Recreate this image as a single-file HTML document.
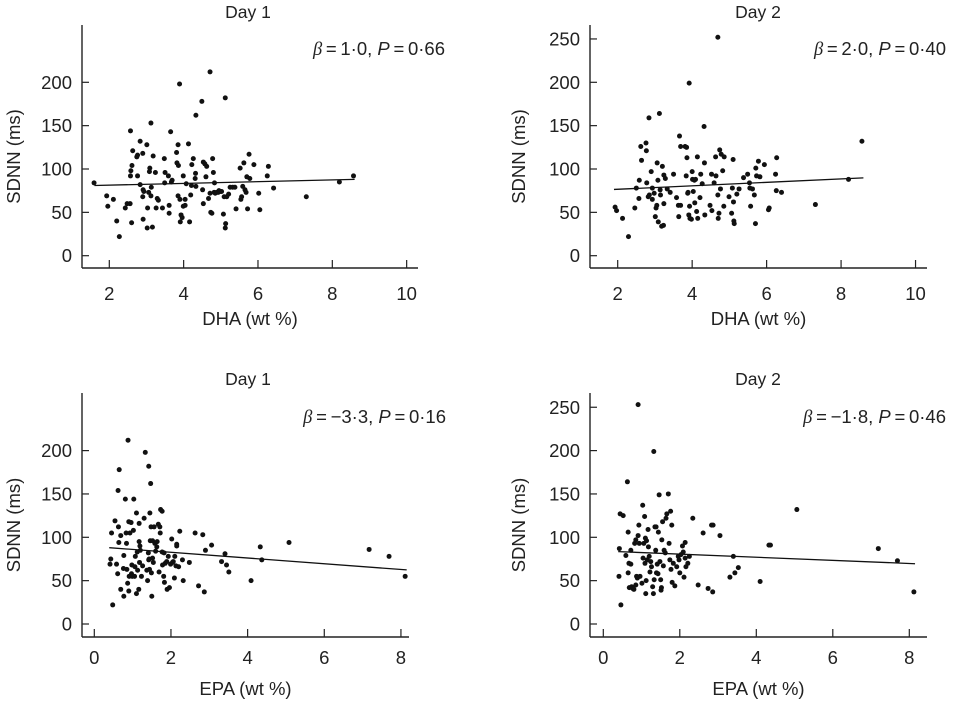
<!DOCTYPE html>
<html><head><meta charset="utf-8"><style>
html,body{margin:0;padding:0;background:#fff;}
svg{display:block;font-family:"Liberation Sans",sans-serif;}
</style></head><body>
<svg id="chart" width="976" height="701" viewBox="0 0 976 701" xmlns="http://www.w3.org/2000/svg"></svg>
<script>
// Panel A: DHA vs SDNN, Day 1
const p1x=[1.59,1.93,2.11,1.96,2.20,2.27,2.43,2.48,2.56,2.60,2.57,2.57,2.58,2.61,2.63,2.74,2.76,2.76,2.83,2.83,2.90,2.91,2.90,2.93,2.91,3.01,3.03,3.02,3.06,3.08,3.09,3.12,3.12,3.13,3.16,3.18,3.24,3.26,3.29,3.32,3.43,3.48,3.50,3.49,3.59,3.61,3.61,3.65,3.67,3.69,3.81,3.82,3.85,3.86,3.85,3.89,3.90,3.91,3.93,3.96,3.99,3.99,4.04,4.04,4.07,4.13,4.16,4.19,4.21,4.22,4.26,4.31,4.32,4.33,4.33,4.49,4.51,4.53,4.53,4.57,4.60,4.62,4.67,4.71,4.71,4.73,4.76,4.78,4.80,4.82,4.83,4.85,4.89,4.93,4.95,4.98,5.02,5.07,5.09,5.12,5.12,5.13,5.16,5.21,5.25,5.32,5.38,5.41,5.52,5.54,5.56,5.59,5.62,5.65,5.68,5.70,5.72,5.76,5.78,5.89,6.02,6.05,6.25,6.28,6.42,7.30,8.19,8.57];
const p1y=[84,69,65,57,40,22,55,60,60,38,144,92,98,104,121,114,116,92,132,82,118,76,68,74,42,128,55,32,73,97,101,153,69,79,33,115,96,55,66,64,55,112,96,84,92,58,49,143,85,87,119,107,128,104,69,198,65,39,47,44,92,57,58,65,83,129,39,70,81,105,112,89,95,80,162,178,76,60,108,106,91,103,66,212,72,50,49,112,96,73,84,72,73,73,75,74,74,48,68,182,32,37,68,71,79,79,79,54,101,65,68,80,107,76,73,91,54,117,89,105,72,53,92,103,78,68,85,92];
// Panel B: DHA vs SDNN, Day 2
const p2x=[1.93,1.97,2.13,2.29,2.46,2.50,2.57,2.58,2.62,2.64,2.76,2.77,2.78,2.84,2.82,2.85,2.90,2.93,2.93,2.98,3.06,3.08,3.03,3.05,3.01,3.09,3.12,3.14,3.15,3.18,3.20,3.24,3.24,3.23,3.28,3.33,3.41,3.50,3.58,3.63,3.64,3.66,3.69,3.69,3.81,3.84,3.85,3.86,3.88,3.89,3.91,3.92,3.93,3.94,3.98,4.00,4.01,4.03,4.06,4.07,4.09,4.12,4.14,4.15,4.21,4.23,4.27,4.33,4.32,4.34,4.48,4.52,4.53,4.59,4.63,4.64,4.69,4.69,4.70,4.72,4.74,4.76,4.78,4.82,4.85,4.86,4.99,5.06,5.08,5.10,5.11,5.12,5.13,5.20,5.26,5.38,5.49,5.54,5.55,5.57,5.62,5.67,5.70,5.71,5.73,5.78,5.82,5.94,6.05,6.07,6.24,6.27,6.26,6.40,7.31,8.20,8.56];
const p2y=[56,52,43,22,55,78,66,87,126,110,130,121,84,159,68,70,97,78,65,72,107,87,55,58,45,39,164,76,70,34,103,93,60,35,89,77,73,94,67,58,45,138,126,58,126,92,125,113,72,73,47,199,57,43,42,97,88,74,87,61,88,51,114,43,67,94,83,107,149,47,58,94,52,84,114,92,252,70,43,49,122,77,117,98,57,114,68,49,78,111,62,40,37,71,77,90,94,84,78,57,77,70,37,101,92,109,91,105,53,55,94,113,75,73,59,88,132];
// Panel C: EPA vs SDNN, Day 1
const p3x=[0.41,0.43,0.45,0.48,0.54,0.58,0.61,0.63,0.64,0.65,0.62,0.69,0.69,0.76,0.77,0.77,0.81,0.83,0.84,0.85,0.87,0.88,0.90,0.90,0.91,0.93,0.96,0.97,0.98,0.99,1.02,1.03,1.05,1.06,1.07,1.10,1.10,1.12,1.13,1.16,1.17,1.17,1.18,1.19,1.20,1.23,1.26,1.30,1.33,1.37,1.39,1.41,1.42,1.42,1.43,1.44,1.45,1.46,1.47,1.48,1.49,1.50,1.52,1.52,1.54,1.56,1.58,1.60,1.63,1.64,1.67,1.69,1.71,1.72,1.73,1.77,1.77,1.78,1.81,1.82,1.83,1.85,1.89,1.90,1.93,1.96,1.99,2.02,2.04,2.06,2.09,2.10,2.13,2.15,2.15,2.20,2.23,2.30,2.32,2.48,2.63,2.72,2.83,2.87,2.90,3.06,3.32,3.41,3.45,3.51,4.09,4.33,4.37,5.08,7.17,7.69,8.11];
const p3y=[69,75,105,22,119,69,58,112,94,178,154,102,40,64,32,79,144,105,93,63,47,212,118,38,55,105,117,58,68,55,108,144,55,66,78,35,128,83,62,40,116,95,71,90,85,55,67,122,198,62,50,82,182,74,75,63,128,96,162,112,59,32,96,76,71,112,93,84,89,95,115,60,112,105,132,83,130,68,55,82,48,70,72,40,78,42,69,98,71,72,53,78,67,92,90,66,107,74,50,71,105,44,103,37,85,91,72,81,68,60,50,89,74,94,86,78,55];
// Panel D: EPA vs SDNN, Day 2
const p4x=[0.41,0.42,0.46,0.44,0.52,0.59,0.63,0.65,0.65,0.67,0.68,0.72,0.72,0.74,0.77,0.80,0.82,0.85,0.85,0.87,0.89,0.91,0.91,0.93,0.94,0.96,1.01,1.03,1.04,1.06,1.08,1.09,1.10,1.11,1.12,1.13,1.15,1.17,1.18,1.20,1.22,1.24,1.26,1.29,1.31,1.32,1.33,1.35,1.37,1.38,1.39,1.41,1.43,1.44,1.46,1.48,1.50,1.51,1.52,1.53,1.55,1.57,1.59,1.62,1.64,1.66,1.70,1.72,1.74,1.76,1.77,1.79,1.80,1.83,1.87,1.92,1.96,1.98,2.00,2.03,2.07,2.09,2.11,2.14,2.14,2.16,2.21,2.25,2.34,2.48,2.61,2.74,2.83,2.87,2.86,3.05,3.31,3.40,3.44,3.53,4.10,4.33,4.37,5.06,7.19,7.69,8.12];
const p4y=[55,87,22,127,125,79,164,59,106,70,42,69,85,43,41,40,93,97,45,55,53,253,102,114,93,55,47,137,76,93,124,70,99,35,50,96,74,109,89,78,60,72,66,43,35,199,51,112,85,112,59,69,58,106,149,72,51,39,42,97,118,67,85,82,122,127,150,93,74,130,63,114,48,70,44,66,78,74,59,80,90,83,54,76,94,66,70,78,122,45,105,41,114,114,37,102,54,78,59,65,49,91,91,132,87,73,37];
const betas=[1.0,2.0,-3.3,-1.8];
const intercepts=[79.4,72.6,89.3,84.2];
const annotations=["1·0|0·66","2·0|0·40","−3·3|0·16","−1·8|0·46"];
const titles=["Day 1","Day 2","Day 1","Day 2"];
const xTicks1=[2,4,6,8,10];
const xTicks2=[0,2,4,6,8];
const yTicksA=[0,50,100,150,200];
const yTicksB=[0,50,100,150,200,250];

const NS="http://www.w3.org/2000/svg";
const svg=document.getElementById('chart');
function mk(tag,attrs,parent){const e=document.createElementNS(NS,tag);for(const k in attrs)e.setAttribute(k,attrs[k]);(parent||svg).appendChild(e);return e;}

const panels=[
 {xs:p1x,ys:p1y,ax:82,top:25,bot:268,right:418,y0:255.7,ppy:0.867,x0v:2,x0p:109.3,ppx:37.17,xt:xTicks1,yt:yTicksA,xl:"DHA (wt %)",tx:248,ty:18,ar:445,ay:55,tl:300,xly:325,ytx:20,lx:[1.6,8.6],name:"dha-day1"},
 {xs:p2x,ys:p2y,ax:590,top:25,bot:268,right:927,y0:255.7,ppy:0.867,x0v:2,x0p:617.7,ppx:37.23,xt:xTicks1,yt:yTicksB,xl:"DHA (wt %)",tx:758,ty:18,ar:946,ay:55,tl:300,xly:325,ytx:525,lx:[1.9,8.6],name:"dha-day2"},
 {xs:p3x,ys:p3y,ax:82,top:393,bot:637,right:409,y0:624,ppy:0.867,x0v:0,x0p:94.3,ppx:38.33,xt:xTicks2,yt:yTicksA,xl:"EPA (wt %)",tx:248,ty:385,ar:446,ay:423,tl:664,xly:695,ytx:20,lx:[0.39,8.15],name:"epa-day1"},
 {xs:p4x,ys:p4y,ax:590,top:393,bot:637,right:927,y0:624,ppy:0.867,x0v:0,x0p:603.3,ppx:38.25,xt:xTicks2,yt:yTicksB,xl:"EPA (wt %)",tx:758,ty:385,ar:946,ay:423,tl:664,xly:695,ytx:525,lx:[0.39,8.15],name:"epa-day2"}
];

panels.forEach((p,i)=>{
 const g=mk('g',{});
 
 
 const X=v=>p.x0p+(v-p.x0v)*p.ppx;
 const Y=v=>p.y0-v*p.ppy;
 const ya=mk('line',{x1:p.ax,y1:p.top,x2:p.ax,y2:p.bot,stroke:'#222','stroke-width':1.4},g);
 
 
 const xa=mk('line',{x1:p.ax,y1:p.bot,x2:p.right,y2:p.bot,stroke:'#222','stroke-width':1.4},g);
 
 
 p.yt.forEach(t=>{
  const y=Y(t);
  const tk=mk('line',{x1:p.ax,y1:y,x2:p.ax+7,y2:y,stroke:'#222','stroke-width':1.2},g);
  
  
  const tl=mk('text',{x:p.ax-10,y:y+6.5,'text-anchor':'end','font-size':18.5,fill:'#222'},g);
  tl.textContent=t;
  
  
 });
 p.xt.forEach(t=>{
  const x=X(t);
  const tk=mk('line',{x1:x,y1:p.bot,x2:x,y2:p.bot-8,stroke:'#222','stroke-width':1.2},g);
  
  
  const tl=mk('text',{x:x,y:p.tl,'text-anchor':'middle','font-size':18.5,fill:'#222'},g);
  tl.textContent=t;
  
  
 });
 const ti=mk('text',{x:p.tx,y:p.ty,'text-anchor':'middle','font-size':17.5,fill:'#222'},g);
 ti.textContent=titles[i];
 
 
 const xl=mk('text',{x:(p.ax+p.right)/2,y:p.xly,'text-anchor':'middle','font-size':18.5,fill:'#222'},g);
 xl.textContent=p.xl;
 
 
 const cy=(p.top+p.bot)/2+10;
 const yl=mk('text',{x:p.ytx,y:cy,'text-anchor':'middle','font-size':18.5,fill:'#222',transform:`rotate(-90 ${p.ytx} ${cy})`},g);
 yl.textContent='SDNN (ms)';
 
 
 const parts=annotations[i].split('|');
 const an=mk('text',{x:p.ar,y:p.ay,'text-anchor':'end','font-size':18.5,fill:'#222'},g);
 an.innerHTML=`<tspan font-style="italic" font-family="Liberation Serif, serif">β</tspan>\u2009=\u2009${parts[0]}, <tspan font-style="italic">P</tspan>\u2009=\u2009${parts[1]}`;
 
 
 p.xs.forEach((xv,j)=>{
  const c=mk('circle',{cx:X(xv),cy:Y(p.ys[j]),r:2.5,fill:'#111'},g);
  
  
 });
 const ln=mk('line',{x1:X(p.lx[0]),y1:Y(intercepts[i]+betas[i]*p.lx[0]),x2:X(p.lx[1]),y2:Y(intercepts[i]+betas[i]*p.lx[1]),stroke:'#111','stroke-width':1.3},g);
 
 
});
</script>
</body></html>
